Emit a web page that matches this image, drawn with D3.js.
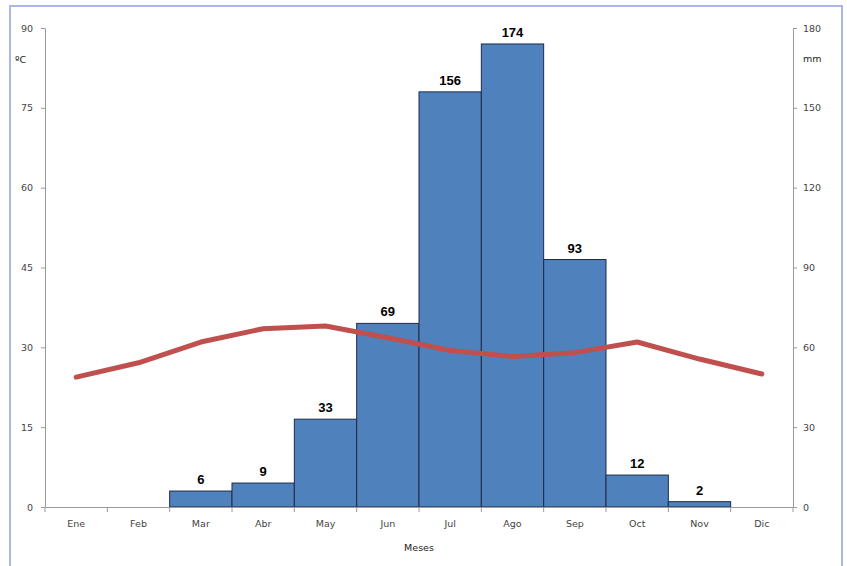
<!DOCTYPE html>
<html>
<head>
<meta charset="utf-8">
<script src="https://cdn.jsdelivr.net/npm/d3@7"></script>
<style>
  body { margin: 0; background: #fff; }
  svg { display: block; }
  .tick text { font-family: "DejaVu Sans", Verdana, sans-serif; font-size: 9.5px; fill: #444; }
</style>
</head>
<body>
<div id="chart"></div>
<script>
// climograma data
const months = ["Ene", "Feb", "Mar", "Abr", "May", "Jun", "Jul", "Ago", "Sep", "Oct", "Nov", "Dic"];
const rainfall = [0, 0, 6, 9, 33, 69, 156, 174, 93, 12, 2, 0];
const rainLabels = ["", "", "6", "9", "33", "69", "156", "174", "93", "12", "2", ""];
const temperature = [24.4, 27.1, 31.0, 33.5, 34.0, 31.8, 29.4, 28.3, 29.0, 31.0, 27.8, 25.0];
const tempTicks = [0, 15, 30, 45, 60, 75, 90];
const rainTicks = [0, 30, 60, 90, 120, 150, 180];

const W = 847, H = 566;
const margin = {top: 28, right: 54, bottom: 59, left: 45};

const svg = d3.select("#chart").append("svg")
    .attr("width", W)
    .attr("height", H);

// outer frame
svg.append("rect")
    .attr("x", 10).attr("y", 6)
    .attr("width", 832).attr("height", 570)
    .style("fill", "none")
    .style("stroke", "#aab6ee")
    .style("stroke-width", 2);

const x = d3.scaleBand()
    .domain(months)
    .range([margin.left, W - margin.right])
    .padding(0);

const yT = d3.scaleLinear()
    .domain([0, 90])
    .range([H - margin.bottom, margin.top]);

const yR = d3.scaleLinear()
    .domain([0, 180])
    .range([H - margin.bottom, margin.top]);

// bars (precipitation)
svg.append("g")
    .selectAll("rect")
    .data(months)
    .enter().append("rect")
    .attr("x", (d) => x(d))
    .attr("y", (d, i) => yR(rainfall[i]))
    .attr("width", x.bandwidth())
    .attr("height", (d, i) => yR(0) - yR(rainfall[i]))
    .style("fill", "#4f81bd")
    .style("stroke", "#1f2b48")
    .style("stroke-width", 1)
    .style("display", (d, i) => rainfall[i] > 0 ? null : "none");

svg.append("g")
    .selectAll("text")
    .data(months)
    .enter().append("text")
    .attr("x", (d) => x(d) + x.bandwidth() / 2)
    .attr("y", (d, i) => yR(rainfall[i]) - 7)
    .attr("text-anchor", "middle")
    .style("font-family", "Arial, 'Liberation Sans', sans-serif")
    .style("font-weight", "bold")
    .style("font-size", "13px")
    .style("fill", "#000")
    .text((d, i) => rainLabels[i]);

// axes
const axisColor = "#9a9a9a";

const xAxis = svg.append("g")
    .attr("transform", `translate(0,${yT(0)})`)
    .call(d3.axisBottom(x).tickSize(0).tickPadding(13));
xAxis.select(".domain").style("stroke", axisColor);
xAxis.selectAll(".edge")
    .data(d3.range(months.length + 1))
    .enter().append("line")
    .attr("x1", (i) => margin.left + i * x.bandwidth())
    .attr("x2", (i) => margin.left + i * x.bandwidth())
    .attr("y1", 0).attr("y2", 5)
    .style("stroke", axisColor);

const leftAxis = svg.append("g")
    .attr("transform", `translate(${margin.left},0)`)
    .call(d3.axisLeft(yT).tickValues(tempTicks).tickSize(4).tickSizeOuter(0).tickPadding(8));
leftAxis.selectAll("line, .domain").style("stroke", axisColor);

const rightAxis = svg.append("g")
    .attr("transform", `translate(${W - margin.right},0)`)
    .call(d3.axisRight(yR).tickValues(rainTicks).tickSize(4).tickSizeOuter(0).tickPadding(6));
rightAxis.selectAll("line, .domain").style("stroke", axisColor);

// temperature line
const line = d3.line()
    .x((d, i) => x(months[i]) + x.bandwidth() / 2)
    .y((d) => yT(d));

svg.append("path")
    .datum(temperature)
    .attr("d", line)
    .style("fill", "none")
    .style("stroke", "#c0504d")
    .style("stroke-width", 5)
    .style("stroke-linejoin", "round")
    .style("stroke-linecap", "round");

// axis titles
const titleStyle = (sel) => sel
    .style("font-family", "'DejaVu Sans', Verdana, sans-serif")
    .style("font-size", "9.5px")
    .style("fill", "#222");

svg.append("text").attr("x", 15).attr("y", 63).text("ºC").call(titleStyle);
svg.append("text").attr("x", 803).attr("y", 62).text("mm").call(titleStyle);
svg.append("text").attr("x", 419).attr("y", 551).attr("text-anchor", "middle").text("Meses").call(titleStyle);
</script>
</body>
</html>
